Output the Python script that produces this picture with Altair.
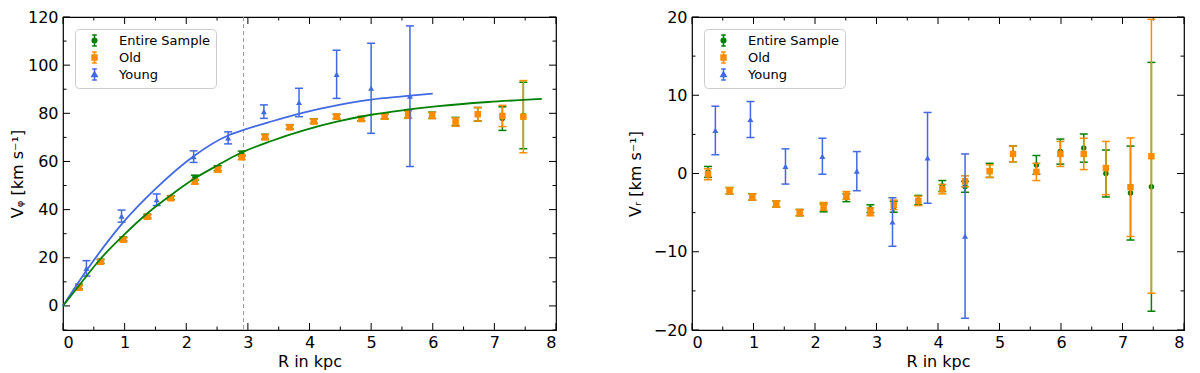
import altair as alt
import pandas as pd

# ---------------- data ----------------
series_names = ["Entire Sample", "Old", "Young"]
series_colors = ["green", "darkorange", "royalblue"]

R_bins = [0.26, 0.61, 0.98, 1.37, 1.75, 2.14, 2.51, 2.90, 3.28, 3.68,
          4.07, 4.44, 4.84, 5.22, 5.60, 5.99, 6.37, 6.73, 7.13, 7.47]

vphi_all = [8.0, 18.6, 27.8, 37.3, 45.0, 53.3, 57.2, 63.3, 70.3, 74.4,
            76.8, 78.7, 77.8, 78.7, 79.5, 79.2, 76.6, 79.6, 77.8, 79.1]
vphi_all_err = [1.0, 0.8, 0.8, 0.8, 0.8, 1.0, 1.0, 1.0, 1.0, 0.9,
                0.9, 0.9, 0.9, 1.0, 1.5, 1.3, 1.7, 2.8, 4.9, 13.8]
vphi_old = [7.6, 18.3, 27.5, 37.0, 44.7, 51.6, 56.6, 61.8, 70.1, 74.2,
            76.6, 78.6, 77.6, 78.6, 79.4, 79.1, 76.4, 79.6, 78.9, 78.6]
vphi_old_err = [1.0, 0.8, 0.8, 0.8, 0.8, 1.0, 1.0, 1.0, 1.1, 0.9,
                0.9, 0.9, 0.9, 1.0, 1.5, 1.3, 1.7, 2.8, 4.4, 15.0]

R_young = [0.38, 0.95, 1.52, 2.12, 2.68, 3.26, 3.83, 4.44, 5.00, 5.63]
vphi_young = [15.6, 37.3, 44.1, 62.0, 69.8, 80.7, 84.5, 96.2, 90.4, 87.1]
vphi_young_err = [3.2, 2.5, 2.4, 2.4, 2.5, 2.8, 5.9, 10.0, 18.7, 29.2]

vr_all = [0.2, -2.2, -3.0, -3.9, -5.0, -4.4, -3.1, -4.5, -4.25, -3.4,
          -1.6, -1.7, 0.4, 2.5, 1.1, 2.8, 3.25, 0.0, -2.5, -1.7]
vr_all_err = [0.7, 0.4, 0.4, 0.4, 0.4, 0.5, 0.5, 0.5, 0.7, 0.6,
              0.7, 0.7, 0.9, 1.0, 1.2, 1.6, 1.8, 3.0, 6.0, 15.9]
vr_old = [-0.1, -2.2, -3.0, -3.9, -5.0, -4.2, -2.8, -4.9, -4.0, -3.5,
          -2.0, -1.0, 0.3, 2.5, 0.2, 2.5, 2.5, 0.7, -1.75, 2.2]
vr_old_err = [0.7, 0.4, 0.4, 0.4, 0.4, 0.5, 0.5, 0.5, 0.6, 0.6,
              0.6, 0.7, 0.8, 1.0, 1.1, 1.6, 2.0, 3.4, 6.3, 17.5]

R_young_vr = [0.38, 0.95, 1.52, 2.12, 2.68, 3.26, 3.83, 4.44]
vr_young = [5.5, 6.9, 0.9, 2.2, 0.3, -6.2, 2.0, -8.0]
vr_young_err = [3.1, 2.3, 2.25, 2.3, 2.5, 3.1, 5.8, 10.5]

fit_young_R = [0, 0.39, 0.95, 1.5, 2.13, 2.68, 2.84, 3.38, 3.92, 4.46, 5.0, 5.55, 6.0]
fit_young_V = [0, 15.0, 33.9, 48.6, 62.4, 70.8, 72.3, 76.6, 80.4, 83.4, 85.7, 87.1, 88.2]

fit_all_R = [0, 0.27, 0.61, 0.98, 1.37, 1.76, 2.14, 2.51, 2.84, 3.38, 3.92,
             4.46, 5.0, 5.55, 6.09, 6.9, 7.77]
fit_all_V = [0, 8.8, 19.6, 29.3, 38.5, 46.2, 53.0, 58.4, 63.0, 68.5, 73.0,
             76.6, 79.4, 81.4, 83.0, 84.7, 86.0]

vline_R = [2.93]

x_major = [0, 1, 2, 3, 4, 5, 6, 7, 8]
x_minor = [0.5, 1.5, 2.5, 3.5, 4.5, 5.5, 6.5, 7.5]
vphi_major = [0, 20, 40, 60, 80, 100, 120]
vphi_minor = [-10, 10, 30, 50, 70, 90, 110]
vr_major = [-20, -10, 0, 10, 20]
vr_minor = [-15, -5, 5, 15]

# ---------------- style ----------------
W1, W2, H = 493, 492, 313
FONT = "DejaVu Sans"

ERR = "M-0.42,-1L0.42,-1M0,-1L0,1M-0.42,1L0.42,1"
legend_paths = [
    ERR + "M0.42,0A0.42,0.42,0,1,1,-0.42,0A0.42,0.42,0,1,1,0.42,0Z",
    ERR + "M-0.45,-0.45L0.45,-0.45L0.45,0.45L-0.45,0.45Z",
    ERR + "M0,-0.5L0.48,0.38L-0.48,0.38Z",
]


def panel(width, ydom, ymaj, ymin, ytitle, tpad, sets, curves, vlines):
    xs = alt.Scale(domain=[0, 8], nice=False, zero=False)
    ys = alt.Scale(domain=ydom, nice=False, zero=False)
    xaxis = alt.Axis(values=x_major, title="R in kpc", ticks=False, domain=False,
                     grid=False, labelPadding=4, titlePadding=3, format="d")
    yaxis = alt.Axis(values=ymaj, title=ytitle, ticks=False, domain=False,
                     grid=False, labelPadding=5, titlePadding=tpad, format="d")

    def X(f):
        return alt.X(f, type="quantitative", scale=xs, axis=xaxis)

    def Y(f):
        return alt.Y(f, type="quantitative", scale=ys, axis=yaxis)

    layers = []
    # tick marks (inward)
    for vals, ln in ((x_major, 7), (x_minor, 3.5)):
        tdf = pd.DataFrame({"t": vals})
        layers.append(alt.Chart(tdf).mark_rule(color="black", strokeWidth=1).encode(
            x=X("t"), y=alt.value(H), y2=alt.value(H - ln)))
        layers.append(alt.Chart(tdf).mark_rule(color="black", strokeWidth=1).encode(
            x=X("t"), y=alt.value(0), y2=alt.value(ln)))
    for vals, ln in ((ymaj, 7), (ymin, 3.5)):
        tdf = pd.DataFrame({"t": vals})
        layers.append(alt.Chart(tdf).mark_rule(color="black", strokeWidth=1).encode(
            y=Y("t"), x=alt.value(0), x2=alt.value(ln)))
        layers.append(alt.Chart(tdf).mark_rule(color="black", strokeWidth=1).encode(
            y=Y("t"), x=alt.value(width - ln), x2=alt.value(width)))

    for vx in vlines:
        vdf = pd.DataFrame({"R": vx})
        layers.append(alt.Chart(vdf).mark_rule(color="#999999", strokeWidth=1,
                                               strokeDash=[4, 3]).encode(x=X("R")))

    for (R, V, E, col, shp, sz) in sets:
        df = pd.DataFrame({"R": R, "V": V,
                           "lo": [v - e for v, e in zip(V, E)],
                           "hi": [v + e for v, e in zip(V, E)]})
        base = alt.Chart(df)
        layers.append(base.mark_rule(color=col, strokeWidth=1.5, clip=True).encode(
            x=X("R"), y=Y("lo"), y2="hi"))
        layers.append(base.transform_fold(["lo", "hi"], as_=["k", "cap"]).mark_tick(
            orient="horizontal", size=8, thickness=1.5, color=col, clip=True, opacity=1).encode(
            x=X("R"), y=Y("cap")))
        layers.append(base.mark_point(shape=shp, filled=True, size=sz, color=col,
                                      opacity=1, clip=True).encode(x=X("R"), y=Y("V")))

    for (R, V, col) in curves:
        cdf = pd.DataFrame({"R": R, "V": V})
        layers.append(alt.Chart(cdf).mark_line(color=col, strokeWidth=1.8,
                                               interpolate="monotone").encode(
            x=X("R"), y=Y("V")))

    # legend (empty data; entries from explicit domain)
    leg = alt.Legend(title=None, orient="top-left", offset=12, padding=5,
                     strokeColor="#cccccc", fillColor="white", cornerRadius=4,
                     labelFontSize=13, labelFont=FONT, labelColor="black",
                     symbolSize=121, symbolStrokeWidth=1.5, rowPadding=0,
                     symbolOffset=8, labelOffset=18, symbolOpacity=1)
    ldf = pd.DataFrame({"series": series_names, "R": [-5.0] * 3, "V": [0.0] * 3})
    layers.append(alt.Chart(ldf).transform_filter("datum.R > 0").mark_point(
        strokeWidth=1.5, opacity=1).encode(
        x=X("R"), y=Y("V"),
        fill=alt.Fill("series:N", scale=alt.Scale(domain=series_names, range=series_colors), legend=leg),
        stroke=alt.Stroke("series:N", scale=alt.Scale(domain=series_names, range=series_colors), legend=leg),
        shape=alt.Shape("series:N", scale=alt.Scale(domain=series_names, range=legend_paths), legend=leg),
    ))

    return alt.layer(*layers).properties(width=width, height=H)


left = panel(
    W1, [-10, 120], vphi_major, vphi_minor, "Vᵩ [km s⁻¹]", 2,
    [
        (R_bins, vphi_all, vphi_all_err, "green", "circle", 30),
        (R_bins, vphi_old, vphi_old_err, "darkorange", "square", 42),
        (R_young, vphi_young, vphi_young_err, "royalblue", "triangle-up", 36),
    ],
    [(fit_young_R, fit_young_V, "royalblue"), (fit_all_R, fit_all_V, "green")],
    [vline_R],
)

right = panel(
    W2, [-20, 20], vr_major, vr_minor, "Vᵣ [km s⁻¹]", 10,
    [
        (R_bins, vr_all, vr_all_err, "green", "circle", 30),
        (R_bins, vr_old, vr_old_err, "darkorange", "square", 42),
        (R_young_vr, vr_young, vr_young_err, "royalblue", "triangle-up", 36),
    ],
    [],
    [],
)

chart = alt.hconcat(left, right, spacing=68).resolve_scale(
    fill="independent", stroke="independent", shape="independent"
).resolve_legend(
    fill="independent", stroke="independent", shape="independent"
).properties(
    padding={"left": 0, "top": 0, "right": 0, "bottom": 0}
).configure(
    font=FONT
).configure_axis(
    labelFontSize=16, titleFontSize=16, titleFontWeight="normal",
    labelColor="black", titleColor="black", labelFont=FONT, titleFont=FONT,
).configure_view(
    stroke="black", strokeWidth=1.2
)

chart.save("out.html", embed_options={"renderer": "svg", "actions": False})
